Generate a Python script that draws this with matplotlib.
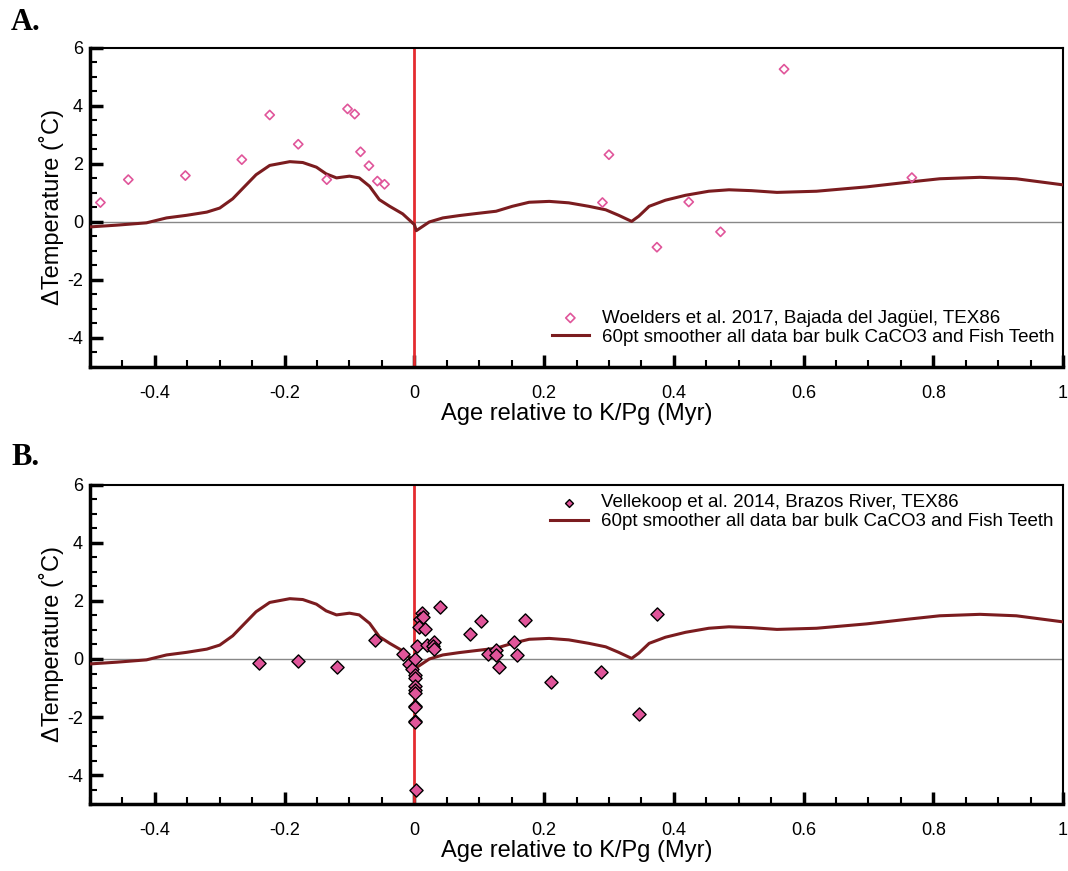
import numpy as np
import matplotlib.pyplot as plt
from matplotlib.ticker import MultipleLocator

# 60pt smoothed curve (same in both panels)
smooth_age = [-0.500, -0.459, -0.413, -0.382, -0.351, -0.320, -0.300, -0.280, -0.264,
              -0.244, -0.223, -0.192, -0.172, -0.151, -0.136, -0.120, -0.100, -0.085,
              -0.069, -0.054, -0.038, -0.018, 0.000, 0.003, 0.023, 0.044, 0.069,
              0.095, 0.126, 0.151, 0.177, 0.208, 0.238, 0.269, 0.295, 0.315, 0.335,
              0.346, 0.362, 0.387, 0.418, 0.454, 0.485, 0.520, 0.559, 0.620, 0.697,
              0.764, 0.810, 0.872, 0.928, 1.000]
smooth_temp = [-0.17, -0.11, -0.03, 0.14, 0.23, 0.34, 0.48, 0.80, 1.17,
               1.63, 1.95, 2.08, 2.05, 1.89, 1.66, 1.52, 1.58, 1.52,
               1.23, 0.77, 0.54, 0.28, -0.09, -0.30, 0.00, 0.14, 0.22,
               0.29, 0.37, 0.54, 0.68, 0.71, 0.66, 0.54, 0.42, 0.23, 0.02,
               0.20, 0.54, 0.75, 0.92, 1.06, 1.11, 1.08, 1.02, 1.06, 1.21,
               1.38, 1.49, 1.54, 1.49, 1.28]

# Woelders et al. 2017, Bajada del Jaguel
woel_age = [-0.484, -0.441, -0.353, -0.266, -0.223, -0.179, -0.135, -0.103, -0.092,
            -0.083, -0.070, -0.057, -0.046, 0.290, 0.300, 0.374, 0.423, 0.472,
            0.570, 0.767]
woel_temp = [0.67, 1.46, 1.60, 2.15, 3.69, 2.68, 1.46, 3.90, 3.72,
             2.42, 1.94, 1.41, 1.30, 0.67, 2.32, -0.87, 0.69, -0.34,
             5.27, 1.53]

# Vellekoop et al. 2014, Brazos River
vell_age = [-0.240, -0.180, -0.120, -0.060, -0.017, -0.009, -0.004, 0.001, 0.004,
            0.001, 0.001, 0.001, 0.001, 0.001, 0.001, 0.001, 0.001, 0.001, 0.002,
            0.012, 0.009, 0.014, 0.007, 0.016, 0.019, 0.031, 0.029, 0.031, 0.039,
            0.086, 0.103, 0.114, 0.126, 0.126, 0.131, 0.153, 0.159, 0.171, 0.211,
            0.288, 0.346, 0.374]
vell_temp = [-0.14, -0.07, -0.29, 0.66, 0.17, -0.18, -0.34, 0.0, 0.45,
             -0.55, -0.67, -0.93, -1.07, -1.16, -1.61, -1.64, -2.13, -2.18, -4.52,
             1.58, 1.37, 1.45, 1.11, 1.05, 0.47, 0.59, 0.45, 0.33, 1.80,
             0.86, 1.31, 0.17, 0.31, 0.14, -0.26, 0.60, 0.15, 1.34, -0.80,
             -0.45, -1.90, 1.55]

smooth_label = '60pt smoother all data bar bulk CaCO3 and Fish Teeth'

PINK = '#e0559a'
CURVE = '#7b1c1f'
VLINE = '#e42b30'

plt.rcParams['font.family'] = ['Liberation Sans', 'DejaVu Sans']

fig = plt.figure(figsize=(10.68, 8.71), dpi=100)
ax_a = fig.add_axes([0.0843, 0.5787, 0.911, 0.3662])
ax_b = fig.add_axes([0.0843, 0.0769, 0.911, 0.3663])


def style_axes(ax):
    ax.set_xlim(-0.5, 1.0)
    ax.set_ylim(-5, 6)
    ax.axhline(0, color='#888888', lw=1, zorder=1)
    ax.axvline(0, color=VLINE, lw=2, zorder=2)
    ax.xaxis.set_major_locator(MultipleLocator(0.2))
    ax.xaxis.set_minor_locator(MultipleLocator(0.05))
    ax.yaxis.set_major_locator(MultipleLocator(2))
    ax.yaxis.set_minor_locator(MultipleLocator(0.5))
    ax.tick_params(which='both', direction='in', labelsize=13, width=1.5)
    ax.tick_params(which='major', length=9, width=2.5)
    ax.tick_params(which='minor', length=5)
    ax.tick_params(axis='x', pad=13)
    ax.tick_params(axis='y', pad=5)
    ax.set_xticks([-0.4, -0.2, 0, 0.2, 0.4, 0.6, 0.8, 1.0])
    ax.set_xticklabels(['-0.4', '-0.2', '0', '0.2', '0.4', '0.6', '0.8', '1'])
    ax.set_yticks([-4, -2, 0, 2, 4, 6])
    ax.set_yticklabels(['-4', '-2', '0', '2', '4', '6'])
    for side in ['left', 'bottom']:
        ax.spines[side].set_linewidth(2.5)
    for side in ['top', 'right']:
        ax.spines[side].set_linewidth(1.5)
    ax.set_xlabel('Age relative to K/Pg (Myr)', fontsize=17, labelpad=1)
    ax.set_ylabel('\u0394Temperature (\u02daC)', fontsize=17, labelpad=2)


style_axes(ax_a)
ax_a.scatter(woel_age, woel_temp, marker='D', s=22, facecolors='none',
             edgecolors=PINK, linewidths=1.2, zorder=4,
             label='Woelders et al. 2017, Bajada del Jag\u00fcel, TEX86')
ax_a.plot(smooth_age, smooth_temp, color=CURVE, lw=2.2, zorder=3,
          solid_joinstyle='round', label=smooth_label)
ax_a.legend(loc='lower right', bbox_to_anchor=(1.005, 0.025), frameon=False,
            fontsize=13.5, handlelength=2.0, borderaxespad=0.5, borderpad=0.2,
            labelspacing=0.1, handletextpad=0.7)

style_axes(ax_b)
ax_b.scatter(vell_age, vell_temp, marker='D', s=45, facecolors=PINK,
             edgecolors='black', linewidths=1.0, zorder=4,
             label='Vellekoop et al. 2014, Brazos River, TEX86')
ax_b.plot(smooth_age, smooth_temp, color=CURVE, lw=2.2, zorder=3,
          solid_joinstyle='round', label=smooth_label)
ax_b.legend(loc='upper right', frameon=False, fontsize=13.5, handlelength=2.0,
            borderaxespad=0.3, borderpad=0.2, labelspacing=0.1, handletextpad=0.7,
            markerscale=0.6)

fig.text(0.010, 0.991, 'A.', fontsize=22, fontweight='bold', va='top',
         family='Liberation Serif')
fig.text(0.011, 0.491, 'B.', fontsize=22, fontweight='bold', va='top',
         family='Liberation Serif')

fig.savefig('out.png', dpi=100)
